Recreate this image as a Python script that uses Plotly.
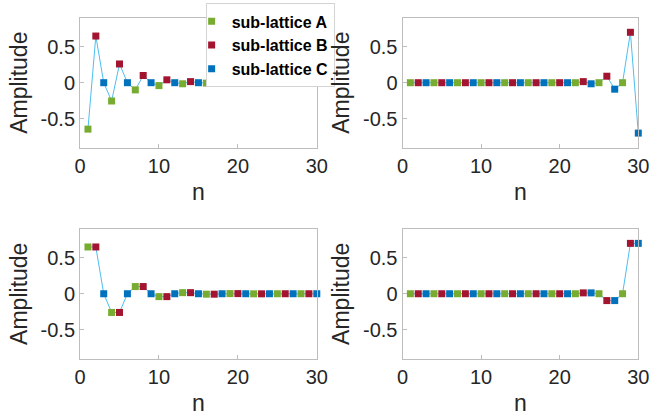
import plotly.graph_objects as go

n = list(range(1, 31))

# amplitudes for the four panels (top-left, top-right, bottom-left, bottom-right)
amp_tl = [-0.645, 0.648, 0.0, -0.254, 0.26, 0.0, -0.10, 0.10, 0.0, -0.04, 0.04, 0.0,
          -0.015, 0.015, 0.0, -0.006, 0.006, 0.0, -0.002, 0.002, 0.0, -0.001, 0.001, 0.0,
          0.0, 0.0, 0.0, 0.0, 0.0, 0.0]
amp_tr = [0.0, 0.0, 0.0, 0.0, 0.0, 0.0, 0.0, 0.0, 0.0, 0.0, 0.0, 0.0,
          0.0, 0.0, 0.0, 0.0, 0.0, 0.0, 0.0, 0.0, 0.0, 0.0, 0.015, -0.015,
          0.0, 0.09, -0.09, 0.0, 0.70, -0.70]
amp_bl = [0.65, 0.65, 0.0, -0.26, -0.26, 0.0, 0.10, 0.10, 0.0, -0.04, -0.04, 0.0,
          0.015, 0.015, 0.0, -0.006, -0.006, 0.0, 0.002, 0.002, 0.0, -0.001, -0.001, 0.0,
          0.0, 0.0, 0.0, 0.0, 0.0, 0.0]
amp_br = [0.0, 0.0, 0.0, 0.0, 0.0, 0.0, 0.0, 0.0, 0.0, 0.0, 0.0, 0.0,
          0.0, 0.0, 0.0, 0.0, 0.0, 0.0, 0.0, 0.0, 0.0, 0.0, 0.012, 0.012,
          0.0, -0.095, -0.095, 0.0, 0.70, 0.70]

sublattices = ["sub-lattice A", "sub-lattice B", "sub-lattice C"]
sub_colors = ["#77AC30", "#A2142F", "#0072BD"]
line_color = "#4DBEEE"

x_ticks = [0, 10, 20, 30]
y_ticks = [-0.5, 0, 0.5]
y_ticktext = ["-0.5", "0", "0.5"]

panels = [amp_tl, amp_tr, amp_bl, amp_br]
x_domains = [[0.115, 0.4826], [0.6157, 0.9818], [0.115, 0.4826], [0.6157, 0.9818]]
y_domains = [[0.6488, 0.9574], [0.6488, 0.9574], [0.1464, 0.4548], [0.1464, 0.4548]]

fig = go.Figure()
font_family = "Liberation Sans, Arial, Helvetica, sans-serif"
axis_color = "#bdbdbd"

for i, amp in enumerate(panels):
    xa = "x" if i == 0 else f"x{i+1}"
    ya = "y" if i == 0 else f"y{i+1}"
    fig.add_trace(go.Scatter(x=n, y=amp, mode="lines", line=dict(color=line_color, width=1),
                             showlegend=False, xaxis=xa, yaxis=ya, cliponaxis=False,
                             hoverinfo="skip"))
    for k in range(3):
        fig.add_trace(go.Scatter(x=n[k::3], y=amp[k::3], mode="markers",
                                 marker=dict(symbol="square", size=7, color=sub_colors[k],
                                             line=dict(width=0)),
                                 name=sublattices[k], showlegend=(i == 0),
                                 xaxis=xa, yaxis=ya, cliponaxis=False))
    axis_common = dict(showline=True, linecolor=axis_color, linewidth=1, mirror=True,
                       ticks="inside", ticklen=4, tickcolor=axis_color,
                       showgrid=False, zeroline=False,
                       tickfont=dict(size=20, color="#262626", family=font_family))
    fig.layout[f"xaxis{'' if i == 0 else i+1}"] = dict(
        domain=x_domains[i], range=[0, 30], tickvals=x_ticks, anchor=ya,
        title=dict(text="n", font=dict(size=23, color="#262626", family=font_family), standoff=8),
        **axis_common)
    fig.layout[f"yaxis{'' if i == 0 else i+1}"] = dict(
        domain=y_domains[i], range=[-0.9, 0.9], tickvals=y_ticks, ticktext=y_ticktext, anchor=xa,
        title=dict(text="Amplitude", font=dict(size=23, color="#262626", family=font_family), standoff=6),
        **axis_common)

fig.update_layout(
    width=661, height=420, margin=dict(l=0, r=0, t=0, b=0),
    plot_bgcolor="white", paper_bgcolor="white",
    legend=dict(x=0.31, y=0.992, xanchor="left", yanchor="top",
                bgcolor="white", bordercolor="#d4d4d4", borderwidth=1,
                font=dict(size=16, color="#000000", family=font_family, weight="bold"),
                itemwidth=30, tracegroupgap=0, indentation=-15),
)

fig.write_html("out.html")
